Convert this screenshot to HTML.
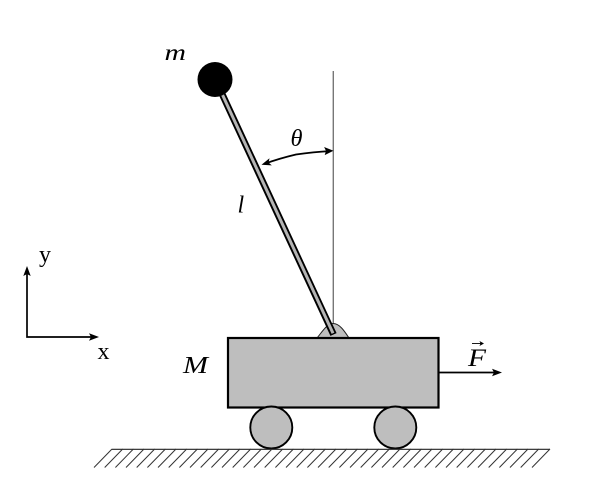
<!DOCTYPE html>
<html>
<head>
<meta charset="utf-8">
<style>
html,body{margin:0;padding:0;background:#fff;width:616px;height:487px;overflow:hidden}
svg{display:block}
text{font-family:"Liberation Serif",serif;fill:#000}
.i{font-style:italic}
</style>
</head>
<body>
<svg width="616" height="487" viewBox="0 0 616 487" xmlns="http://www.w3.org/2000/svg">
<rect width="616" height="487" fill="#fff"/>
<!-- vertical reference -->
<line x1="333.3" y1="71" x2="333.3" y2="326" stroke="#777" stroke-width="1.4"/>
<!-- hinge -->
<path d="M317 338 C322 332 327 323.5 333 323.5 C340 323.5 345 332 349 338 Z" fill="#bebebe" stroke="#222" stroke-width="1"/>
<!-- rod -->
<line x1="217" y1="83" x2="333.5" y2="334.5" stroke="#000" stroke-width="6.8"/>
<line x1="217" y1="83" x2="333" y2="333.3" stroke="#b4b4b4" stroke-width="3"/>
<!-- mass -->
<circle cx="215" cy="79.5" r="17.5" fill="#000"/>
<!-- cart -->
<rect x="228" y="338" width="210.5" height="69.5" fill="#bebebe" stroke="#000" stroke-width="2.2"/>
<!-- wheels -->
<circle cx="271.3" cy="427.5" r="21" fill="#bebebe" stroke="#000" stroke-width="1.9"/>
<circle cx="395.3" cy="427.5" r="21" fill="#bebebe" stroke="#000" stroke-width="1.9"/>
<!-- ground -->
<line x1="112" y1="449.3" x2="550" y2="449.3" stroke="#222" stroke-width="1.1"/>
<g stroke="#333" stroke-width="1">
<line x1="112" y1="449" x2="94" y2="467.5"/><line x1="122.7" y1="449" x2="104.7" y2="467.5"/><line x1="133.4" y1="449" x2="115.4" y2="467.5"/><line x1="144" y1="449" x2="126" y2="467.5"/><line x1="154.7" y1="449" x2="136.7" y2="467.5"/><line x1="165.4" y1="449" x2="147.4" y2="467.5"/><line x1="176" y1="449" x2="158" y2="467.5"/><line x1="186.7" y1="449" x2="168.7" y2="467.5"/><line x1="197.4" y1="449" x2="179.4" y2="467.5"/><line x1="208" y1="449" x2="190" y2="467.5"/><line x1="218.7" y1="449" x2="200.7" y2="467.5"/><line x1="229.4" y1="449" x2="211.4" y2="467.5"/><line x1="240" y1="449" x2="222" y2="467.5"/><line x1="250.7" y1="449" x2="232.7" y2="467.5"/><line x1="261.4" y1="449" x2="243.4" y2="467.5"/><line x1="272" y1="449" x2="254" y2="467.5"/><line x1="282.7" y1="449" x2="264.7" y2="467.5"/><line x1="293.4" y1="449" x2="275.4" y2="467.5"/><line x1="304" y1="449" x2="286" y2="467.5"/><line x1="314.7" y1="449" x2="296.7" y2="467.5"/><line x1="325.4" y1="449" x2="307.4" y2="467.5"/><line x1="336" y1="449" x2="318" y2="467.5"/><line x1="346.7" y1="449" x2="328.7" y2="467.5"/><line x1="357.4" y1="449" x2="339.4" y2="467.5"/><line x1="368" y1="449" x2="350" y2="467.5"/><line x1="378.7" y1="449" x2="360.7" y2="467.5"/><line x1="389.4" y1="449" x2="371.4" y2="467.5"/><line x1="400" y1="449" x2="382" y2="467.5"/><line x1="410.7" y1="449" x2="392.7" y2="467.5"/><line x1="421.4" y1="449" x2="403.4" y2="467.5"/><line x1="432" y1="449" x2="414" y2="467.5"/><line x1="442.7" y1="449" x2="424.7" y2="467.5"/><line x1="453.4" y1="449" x2="435.4" y2="467.5"/><line x1="464" y1="449" x2="446" y2="467.5"/><line x1="474.7" y1="449" x2="456.7" y2="467.5"/><line x1="485.4" y1="449" x2="467.4" y2="467.5"/><line x1="496" y1="449" x2="478" y2="467.5"/><line x1="506.7" y1="449" x2="488.7" y2="467.5"/><line x1="517.4" y1="449" x2="499.4" y2="467.5"/><line x1="528" y1="449" x2="510" y2="467.5"/><line x1="538.7" y1="449" x2="520.7" y2="467.5"/><line x1="550" y1="449" x2="532" y2="467.5"/>
</g>
<!-- force arrow -->
<line x1="439" y1="372.5" x2="497" y2="372.5" stroke="#000" stroke-width="1.7"/>
<path d="M502 372.5 L492 368.8 L494 372.5 L492 376.2 Z" fill="#000"/>
<!-- axes -->
<path d="M27 271 L27 337 L94 337" fill="none" stroke="#000" stroke-width="1.7"/>
<path d="M27 266 L23.3 276 L27 274 L30.7 276 Z" fill="#000"/>
<path d="M99 337 L89 333.3 L91 337 L89 340.7 Z" fill="#000"/>
<!-- theta arc -->
<path d="M264 164 Q279 158.5 296 154.5 Q313 152 331 151" fill="none" stroke="#000" stroke-width="1.7"/>
<path d="M261.5 164.7 L271.8 165.4 L268.6 162.6 L269.5 158.3 Z" fill="#000"/>
<path d="M333.5 150.8 L324.1 147 L326 150.9 L324.7 155.1 Z" fill="#000"/>
<!-- labels -->
<text class="i" x="164.5" y="60" font-size="23" textLength="21.5" lengthAdjust="spacingAndGlyphs">m</text>
<text class="i" x="290.5" y="146" font-size="24" textLength="12" lengthAdjust="spacingAndGlyphs">θ</text>
<text class="i" x="237.5" y="212.5" font-size="24">l</text>
<text class="i" x="183" y="373" font-size="24" textLength="25" lengthAdjust="spacingAndGlyphs">M</text>
<text class="i" x="468" y="366" font-size="25" textLength="18" lengthAdjust="spacingAndGlyphs">F</text>
<line x1="472" y1="343.5" x2="482" y2="343.5" stroke="#000" stroke-width="0.9"/>
<path d="M484 343.5 L479.5 341 L480.5 343.5 L479.5 346 Z" fill="#000"/>
<text x="39" y="262" font-size="24">y</text>
<text x="97.5" y="359" font-size="24">x</text>
</svg>
</body>
</html>
